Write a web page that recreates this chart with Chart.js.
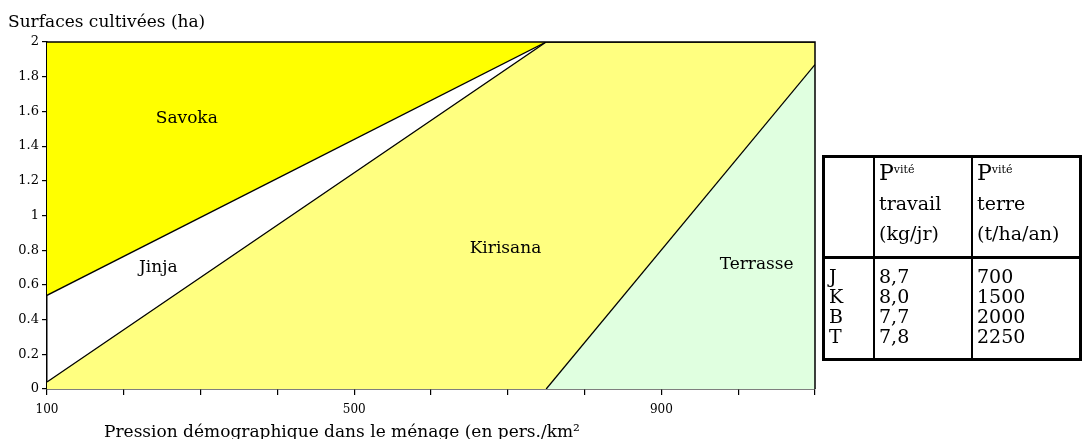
<!DOCTYPE html>
<html>
<head>
<meta charset="utf-8">
<script src="https://cdn.jsdelivr.net/npm/chart.js@4.4.1/dist/chart.umd.min.js"></script>
<style>
    body { margin: 0; background: #fff; font-family: "DejaVu Serif", serif; }
    #wrap { position: relative; width: 1084px; height: 439px; }
    #chart { position: absolute; left: 0; top: 0; }
    #prod { position: absolute; left: 822px; top: 155px; width: 260px; border-collapse: collapse; border: 3px solid #000; font-size: 19px; color: #000; }
    #prod td { border-left: 2px solid #000; border-right: 2px solid #000; vertical-align: top; padding: 0 0 0 4px; }
    #prod .head td { border-bottom: 3px solid #000; line-height: 30px; padding-bottom: 8px; height: 90px; }
    #prod .body td { line-height: 20px; padding-top: 7px; padding-bottom: 12px; }
    #prod .big { font-size: 22px; }
    #prod sup { font-size: 11px; vertical-align: top; position: relative; top: -3px; }
</style>
</head>
<body>
<div id="wrap">
    <canvas id="chart" width="823" height="439"></canvas>
    <table id="prod">
        <tr class="head">
            <td style="width:44px"></td>
            <td style="width:92px"><span class="big">P</span><sup>vité</sup><br>travail<br>(kg/jr)</td>
            <td><span class="big">P</span><sup>vité</sup><br>terre<br>(t/ha/an)</td>
        </tr>
        <tr class="body">
            <td id="col-sys"></td>
            <td id="col-travail"></td>
            <td id="col-terre"></td>
        </tr>
    </table>
</div>
<script>
// boundaries of the zones (x = pers./km², y = ha)
const savokaX = [100, 750];
const savokaY = [0.54, 2];
const kirisanaX = [100, 750, 1100];
const kirisanaY = [0.04, 2, 2];
const terrasseX = [750, 1100];
const terrasseY = [0, 1.87];

const zoneNames = ['Savoka', 'Jinja', 'Kirisana', 'Terrasse'];
const zoneLabelX = [282, 245, 697, 1024];
const zoneLabelY = [1.56, 0.70, 0.81, 0.72];

const xLabelled = [100, 500, 900];

// table on the right
const systems = ['J', 'K', 'B', 'T'];
const travail = ['8,7', '8,0', '7,7', '7,8'];
const terre = ['700', '1500', '2000', '2250'];

document.getElementById('col-sys').innerHTML = systems.join('<br>');
document.getElementById('col-travail').innerHTML = travail.join('<br>');
document.getElementById('col-terre').innerHTML = terre.join('<br>');

const toPoints = (xs, ys) => xs.map((x, i) => ({ x: x, y: ys[i] }));

const FONT = '"DejaVu Serif", serif';

const textPlugin = {
    id: 'texts',
    afterDatasetsDraw(chart) {
        const { ctx, chartArea, scales } = chart;
        ctx.save();
        // top and right frame
        ctx.strokeStyle = '#000';
        ctx.lineWidth = 1.5;
        ctx.beginPath();
        ctx.moveTo(chartArea.left, chartArea.top);
        ctx.lineTo(chartArea.right, chartArea.top);
        ctx.lineTo(chartArea.right, chartArea.bottom);
        ctx.stroke();

        ctx.fillStyle = '#000';
        ctx.font = '17px ' + FONT;
        ctx.textAlign = 'center';
        ctx.textBaseline = 'middle';
        zoneNames.forEach((name, i) => {
            ctx.fillText(name, scales.x.getPixelForValue(zoneLabelX[i]), scales.y.getPixelForValue(zoneLabelY[i]));
        });

        ctx.textAlign = 'left';
        ctx.textBaseline = 'alphabetic';
        ctx.font = '17px ' + FONT;
        ctx.fillText('Surfaces cultivées (ha)', 8, 27);
        ctx.fillText('Pression démographique dans le ménage (en pers./km²', chartArea.left + 57, 437);
        ctx.restore();
    }
};

const config = {
    type: 'line',
    data: {
        datasets: [
            {
                label: 'Terrasse',
                data: toPoints(terrasseX, terrasseY),
                borderColor: '#000',
                borderWidth: 1.3,
                backgroundColor: '#e0ffe0',
                fill: 'origin',
                pointRadius: 0,
            },
            {
                label: 'Kirisana',
                data: toPoints(kirisanaX, kirisanaY),
                borderColor: '#000',
                borderWidth: 1.3,
                backgroundColor: '#ffff80',
                fill: 'origin',
                pointRadius: 0,
            },
            {
                label: 'Savoka',
                data: toPoints(savokaX, savokaY),
                borderColor: '#000',
                borderWidth: 1.3,
                backgroundColor: '#ffff00',
                fill: 'end',
                pointRadius: 0,
            },
        ],
    },
    options: {
        responsive: false,
        animation: false,
        layout: { padding: { top: 42, right: 2, left: 0, bottom: 0 } },
        plugins: {
            legend: { display: false },
            tooltip: { enabled: false },
        },
        scales: {
            x: {
                type: 'linear',
                min: 100,
                max: 1100,
                afterFit: (scale) => { scale.height = 50; },
                border: { color: '#000', width: 1.5 },
                grid: { drawOnChartArea: false, drawTicks: true, tickLength: 6, color: '#000', lineWidth: 1.2 },
                ticks: {
                    stepSize: 100,
                    autoSkip: false,
                    maxRotation: 0,
                    padding: 8,
                    color: '#000',
                    font: { family: FONT, size: 12 },
                    callback: (v) => xLabelled.includes(v) ? String(v) : '',
                },
            },
            y: {
                min: 0,
                max: 2,
                afterFit: (scale) => { scale.width = 47; },
                border: { color: '#000', width: 1.5 },
                grid: { drawOnChartArea: false, drawTicks: true, tickLength: 5, color: '#000', lineWidth: 1.2 },
                ticks: {
                    stepSize: 0.2,
                    padding: 3,
                    color: '#000',
                    font: { family: FONT, size: 13 },
                    callback: (v) => String(Number(v.toFixed(1))),
                },
            },
        },
    },
    plugins: [textPlugin],
};

document.addEventListener('DOMContentLoaded', () => {
    new Chart(document.getElementById('chart'), config);
});
</script>
</body>
</html>
